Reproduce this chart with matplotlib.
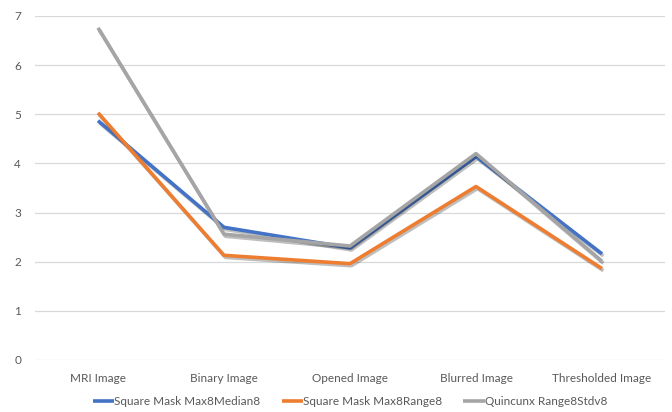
import matplotlib
matplotlib.use('Agg')
import matplotlib.pyplot as plt
import matplotlib.patheffects as pe

plt.rcParams['font.family'] = ['Lato', 'DejaVu Sans']

CATEGORIES = ["MRI Image", "Binary Image", "Opened Image", "Blurred Image", "Thresholded Image"]
SERIES_NAMES = ["Square Mask Max8Median8", "Square Mask Max8Range8", "Quincunx Range8Stdv8"]
max8_median8 = [4.87, 2.70, 2.28, 4.14, 2.16]
max8_range8 = [5.03, 2.13, 1.96, 3.53, 1.86]
range8_stdv8 = [6.76, 2.56, 2.32, 4.20, 2.01]
COLORS = ['#4472C4', '#ED7D31', '#A5A5A5']

fig = plt.figure(figsize=(6.72, 4.12), dpi=100)
ax = fig.add_axes([35/672, 1-360/412, 630/672, 344/412])

x = range(len(CATEGORIES))
shadow = [pe.SimpleLineShadow(offset=(1, -1.5), shadow_color='#000000', alpha=0.25), pe.Normal()]
for vals, name, col in zip([max8_median8, max8_range8, range8_stdv8], SERIES_NAMES, COLORS):
    ax.plot(x, vals, color=col, lw=2.6, label=name, solid_joinstyle='round',
            solid_capstyle='butt', path_effects=shadow)

ax.set_xlim(-0.5, len(CATEGORIES) - 0.5)
ax.set_ylim(0, 7)
ax.set_yticks(range(0, 8))
ax.set_xticks(list(x))
ax.set_xticklabels(CATEGORIES)
ax.grid(axis='y', color='#D9D9D9', lw=0.9)
ax.set_axisbelow(True)
for s in ax.spines.values():
    s.set_visible(False)
ax.tick_params(axis='both', length=0, colors='#595959', labelsize=8.5)
ax.tick_params(axis='y', pad=10)
ax.tick_params(axis='x', pad=9)

leg = ax.legend(loc='center', bbox_to_anchor=(0.5, -0.122), ncol=3, frameon=False,
                fontsize=8.5, labelcolor='#595959', handlelength=1.8, handletextpad=0.0,
                columnspacing=1.8, borderpad=0, borderaxespad=0)
for h in leg.get_lines():
    h.set_path_effects([])

fig.savefig('out.png', dpi=100)
